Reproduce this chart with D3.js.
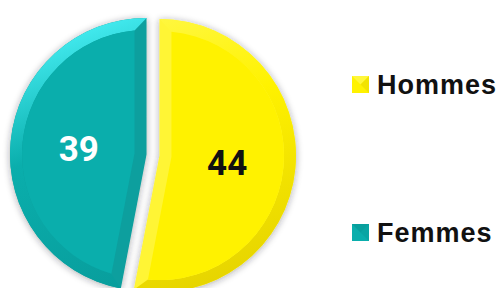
<!DOCTYPE html>
<html>
<head>
<meta charset="utf-8">
<script src="https://cdn.jsdelivr.net/npm/d3@7"></script>
<style>
  body { margin: 0; background: #fff; }
</style>
</head>
<body>
<svg id="chart" width="504" height="288"></svg>
<script>
// data
var categories = ["Hommes", "Femmes"];
var values = [44, 39];
var faceColors = ["#fff200", "#0aaeac"];
var rimTop = ["#fff84a", "#46eef3"];
var rimBottom = ["#e6d400", "#089b9a"];
var edgeColors = ["#fff534", "#089f9e"];
var labelColors = ["#111", "#fff"];

var svg = d3.select("#chart");
var cx = 153, cy = 155, r = 136.5, explode = 6.5, bevel = 12;
var innerR = r - bevel;

var pie = d3.pie().sort(null).value(d => d.value);
var slices = pie(categories.map((c, i) => ({ name: c, value: values[i], i: i })));

var arc = d3.arc().innerRadius(0).outerRadius(r);
var labelArc = d3.arc().innerRadius(0).outerRadius(136);

function pt(a, rad) { return [rad * Math.sin(a), -rad * Math.cos(a)]; }

var defs = svg.append("defs");
var shadow = defs.append("filter").attr("id", "shadow")
  .attr("x", "-20%").attr("y", "-20%").attr("width", "140%").attr("height", "140%");
shadow.append("feDropShadow")
  .attr("dx", 0).attr("dy", 1).attr("stdDeviation", 3.5)
  .attr("flood-color", "#223").attr("flood-opacity", 0.4);

slices.forEach(function(s) {
  var g = defs.append("linearGradient").attr("id", "rim" + s.data.i)
    .attr("gradientUnits", "userSpaceOnUse")
    .attr("x1", -r * 0.4).attr("y1", -r).attr("x2", r * 0.3).attr("y2", r);
  g.append("stop").attr("offset", 0).attr("stop-color", rimTop[s.data.i]);
  g.append("stop").attr("offset", 0.4).attr("stop-color", faceColors[s.data.i]);
  g.append("stop").attr("offset", 1).attr("stop-color", rimBottom[s.data.i]);
});

var groups = svg.selectAll("g.slice")
  .data(slices)
  .enter().append("g")
  .attr("class", "slice")
  .attr("transform", function(d) {
    var mid = (d.startAngle + d.endAngle) / 2;
    var o = pt(mid, explode);
    return "translate(" + (cx + o[0]) + "," + (cy + o[1]) + ")";
  });

// base (edge band colour) with shadow
groups.append("path")
  .attr("d", arc)
  .attr("fill", d => edgeColors[d.data.i])
  .attr("filter", "url(#shadow)");

var delta = Math.asin(bevel / innerR);

// outer rim band
groups.append("path")
  .attr("fill", d => "url(#rim" + d.data.i + ")")
  .attr("d", function(d) {
    var p = d3.path();
    var o0 = pt(d.startAngle, r);
    p.moveTo(o0[0], o0[1]);
    p.arc(0, 0, r, d.startAngle - Math.PI / 2, d.endAngle - Math.PI / 2, false);
    var i1 = pt(d.endAngle - delta, innerR);
    p.lineTo(i1[0], i1[1]);
    p.arc(0, 0, innerR, d.endAngle - delta - Math.PI / 2, d.startAngle + delta - Math.PI / 2, true);
    p.closePath();
    return p.toString();
  });

// inner face
groups.append("path")
  .attr("fill", d => faceColors[d.data.i])
  .attr("d", function(d) {
    var p = d3.path();
    var mid = (d.startAngle + d.endAngle) / 2;
    var half = (d.endAngle - d.startAngle) / 2;
    var v = pt(mid, bevel / Math.sin(half));
    p.moveTo(v[0], v[1]);
    var i0 = pt(d.startAngle + delta, innerR);
    p.lineTo(i0[0], i0[1]);
    p.arc(0, 0, innerR, d.startAngle + delta - Math.PI / 2, d.endAngle - delta - Math.PI / 2, false);
    p.closePath();
    return p.toString();
  });

// value labels
groups.append("text")
  .attr("transform", d => "translate(" + labelArc.centroid(d) + ")")
  .attr("text-anchor", "middle")
  .attr("dy", "0.36em")
  .attr("font-family", "Roboto, sans-serif")
  .attr("font-weight", 700)
  .attr("font-size", 35)
  .attr("fill", d => labelColors[d.data.i])
  .text(d => d.data.value);

// legend
var ly = d3.scalePoint().domain(categories).range([84.5, 232.5]);
var sq = 17;
var legend = svg.selectAll("g.legend")
  .data(categories)
  .enter().append("g")
  .attr("class", "legend")
  .attr("transform", d => "translate(352," + ly(d) + ")");

legend.append("rect")
  .attr("x", 0).attr("y", -sq / 2).attr("width", sq).attr("height", sq)
  .attr("fill", (d, i) => faceColors[i]);
legend.append("path")
  .attr("d", "M0," + (-sq / 2) + "L" + sq + "," + (-sq / 2) + "L" + (sq / 2) + ",0Z")
  .attr("fill", (d, i) => i === 0 ? rimTop[i] : rimBottom[i])
  .attr("opacity", 0.8);
legend.append("path")
  .attr("d", "M" + sq + "," + (-sq / 2) + "L" + sq + "," + (sq / 2) + "L" + (sq / 2) + ",0Z")
  .attr("fill", (d, i) => rimBottom[i])
  .attr("opacity", 0.5);

legend.append("text")
  .attr("x", 25)
  .attr("y", 9.5)
  .attr("font-family", "'Liberation Sans', Arial, sans-serif")
  .attr("font-weight", 700)
  .attr("font-size", 27)
  .attr("letter-spacing", 1)
  .attr("fill", "#111")
  .text(d => d);
</script>
</body>
</html>
